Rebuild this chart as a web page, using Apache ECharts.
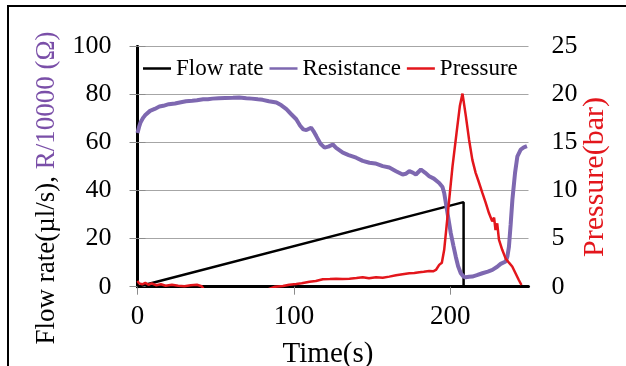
<!DOCTYPE html>
<html>
<head>
<meta charset="utf-8">
<script src="https://cdn.jsdelivr.net/npm/echarts@6/dist/echarts.min.js"></script>
<style>
  html, body { margin: 0; padding: 0; background: #fff; }
  #chart { width: 626px; height: 366px; }
</style>
</head>
<body>
<div id="chart"></div>
<script>
// time ticks shown on the x axis
const timeTicks = [0, 100, 200]

// flow rate (µl/s): ramp then cut-off
const flowTime = [0, 208.5, 208.5, 250]
const flowValue = [0, 35.2, 0, 0]

// resistance R/10000 (Ω), left axis
const resTime = [0, 1, 2, 3.7, 5, 8, 11, 14, 16.5, 20, 24, 27, 31, 35, 38, 42, 45, 48, 52, 56, 61, 65, 69.6, 73, 77, 80, 84, 88.8, 92, 95.2, 98, 101.5, 104, 106, 108, 111, 112.5, 114.3, 117, 119.6, 122, 124.9, 127, 131.3, 135, 139.8, 144, 148.3, 152, 156.8, 161, 165.3, 169.5, 171.5, 173.8, 176, 178, 181.2, 184, 186.5, 189.5, 192.9, 195, 196.1, 198.2, 200.3, 202, 203.5, 205, 206.7, 208.5, 209.9, 212, 214.1, 217, 220.5, 224, 226.9, 230, 232.2, 235.4, 236.5, 237.5, 238.6, 239.7, 241.4, 242.9, 245, 247, 249]
const resValue = [64, 66.5, 68.5, 70.4, 71.5, 73.2, 74, 75, 75.3, 76, 76.3, 76.7, 77.2, 77.4, 77.6, 78, 78, 78.3, 78.5, 78.6, 78.7, 78.8, 78.5, 78.3, 78, 77.8, 77.2, 76.7, 75.5, 73.9, 72, 69.7, 67, 65.5, 65.2, 66.2, 64.8, 62.7, 59.5, 57.9, 58.3, 59.2, 57.8, 55.8, 54.8, 53.7, 52.4, 51.6, 51.3, 50.2, 49.6, 48.1, 46.7, 47, 48.1, 47.5, 46.7, 48.8, 47.4, 46, 45, 43.2, 41.5, 39, 30.7, 22.3, 17, 12.5, 8.5, 5.6, 4.2, 3.9, 4.1, 4.2, 4.8, 5.6, 6.3, 7, 8.3, 9.5, 10.5, 12.5, 16.7, 26, 36.2, 47.4, 54.3, 57.1, 58, 58.5]

// pressure (bar), right axis
const presTime = [0, 1, 2, 3, 5, 7, 9, 12, 15, 18, 22, 26, 30, 34, 38, 41, 43, 82, 84.5, 88, 93, 97, 101.5, 105, 110, 114, 118.5, 123, 127, 131, 135.5, 140, 144, 148, 152.5, 156.8, 161, 165.3, 169.5, 173.8, 177, 180.2, 183, 186.5, 189, 190.8, 192.9, 194.6, 196.1, 197.6, 199.3, 201.4, 204, 206.1, 207.8, 209.9, 212, 214.1, 216.2, 218, 220.5, 222.5, 224.7, 226.8, 228, 228.9, 230, 231.1, 233.2, 235.3, 237.5, 239.6, 241.7, 243.8, 245.5]
const presValue = [0.6, 0.35, 0.5, 0.25, 0.4, 0.2, 0.35, 0.15, 0.25, 0.1, 0.2, 0.1, 0.05, 0.15, 0.2, 0.05, -0.4, -0.4, -0.2, 0, 0.07, 0.2, 0.28, 0.35, 0.52, 0.6, 0.77, 0.8, 0.84, 0.8, 0.84, 0.9, 0.98, 0.87, 0.98, 0.94, 1.05, 1.19, 1.3, 1.4, 1.42, 1.5, 1.55, 1.64, 1.6, 1.74, 2.27, 2.5, 3.84, 6.27, 9.06, 12.5, 16, 18.8, 20.1, 17.8, 15.3, 13.2, 11.85, 11, 9.76, 8.8, 7.67, 6.8, 7.2, 5.9, 6.6, 4.9, 3.84, 2.97, 2.5, 2.1, 1.4, 0.7, 0.18]

const zip = (xs, ys) => xs.map((x, i) => [x, ys[i]])

const serif = "'Liberation Serif', 'DejaVu Serif', serif"
const purple = '#7E68B0'
const red = '#E3161C'

const chart = echarts.init(document.getElementById('chart'))

chart.setOption({
  animation: false,
  textStyle: { fontFamily: serif },
  grid: { left: 137.5, right: 97.5, top: 46.5, bottom: 79.3 },
  legend: {
    left: 138,
    top: 52,
    icon: 'rect',
    itemWidth: 28,
    itemHeight: 2.5,
    itemGap: 6,
    textStyle: { fontFamily: serif, fontSize: 23, color: '#000' },
    data: ['Flow rate', 'Resistance', 'Pressure']
  },
  xAxis: [{
    type: 'value',
    min: 0,
    max: 250,
    interval: 100,
    axisLine: { lineStyle: { color: '#8c8c8c', width: 1 } },
    axisTick: { show: true, length: 8, customValues: timeTicks, lineStyle: { color: '#8c8c8c' } },
    axisLabel: { customValues: timeTicks, fontFamily: serif, fontSize: 27, color: '#000', margin: 17 },
    splitLine: { show: false }
  }, {
    // top edge of the plot frame
    type: 'value',
    position: 'top',
    min: 0,
    max: 250,
    axisLine: { show: true, lineStyle: { color: '#000', width: 3 } },
    axisTick: { show: false },
    axisLabel: { show: false },
    splitLine: { show: false }
  }],
  yAxis: [{
    type: 'value',
    min: 0,
    max: 100,
    interval: 20,
    axisLine: { show: true, lineStyle: { color: '#000', width: 3 } },
    axisTick: { show: true, length: 8, lineStyle: { color: '#8c8c8c' } },
    axisLabel: { fontFamily: serif, fontSize: 26, color: '#000', margin: 26 },
    splitLine: { lineStyle: { color: '#a6a6a6', width: 1 } }
  }, {
    type: 'value',
    min: 0,
    max: 25,
    interval: 5,
    position: 'right',
    axisLine: { show: true, lineStyle: { color: '#000', width: 3 } },
    axisTick: { show: true, length: 8, lineStyle: { color: '#8c8c8c' } },
    axisLabel: { fontFamily: serif, fontSize: 26, color: '#000', margin: 23 },
    splitLine: { show: false }
  }],
  graphic: [
    {
      type: 'rect',
      shape: { x: 8, y: 6, width: 700, height: 500 },
      style: { fill: 'none', stroke: '#000', lineWidth: 2 },
      z: -1
    },
    {
      type: 'text',
      x: 47,
      y: 188,
      rotation: Math.PI / 2,
      style: {
        text: '{a|Flow rate(µl/s), }{b|R/10000 (Ω)}',
        align: 'center',
        verticalAlign: 'middle',
        rich: {
          a: { fontFamily: serif, fontSize: 27, fill: '#000' },
          b: { fontFamily: serif, fontSize: 27, fill: '#7A4FA8' }
        }
      }
    },
    {
      type: 'text',
      x: 595,
      y: 177,
      rotation: Math.PI / 2,
      style: {
        text: 'Pressure(bar)',
        align: 'center',
        verticalAlign: 'middle',
        fontFamily: serif,
        fontSize: 30,
        fill: red
      }
    },
    {
      type: 'text',
      x: 328,
      y: 354,
      style: {
        text: 'Time(s)',
        align: 'center',
        verticalAlign: 'middle',
        fontFamily: serif,
        fontSize: 29,
        fill: '#000'
      }
    }
  ],
  series: [
    {
      name: 'Flow rate',
      type: 'line',
      xAxisIndex: 0,
      yAxisIndex: 0,
      symbol: 'none',
      color: '#000',
      lineStyle: { width: 2.5 },
      data: zip(flowTime, flowValue)
    },
    {
      name: 'Resistance',
      type: 'line',
      xAxisIndex: 0,
      yAxisIndex: 0,
      symbol: 'none',
      color: purple,
      lineStyle: { width: 4 },
      data: zip(resTime, resValue)
    },
    {
      name: 'Pressure',
      type: 'line',
      xAxisIndex: 0,
      yAxisIndex: 1,
      symbol: 'none',
      color: red,
      lineStyle: { width: 2.5 },
      data: zip(presTime, presValue)
    }
  ]
})
</script>
</body>
</html>
